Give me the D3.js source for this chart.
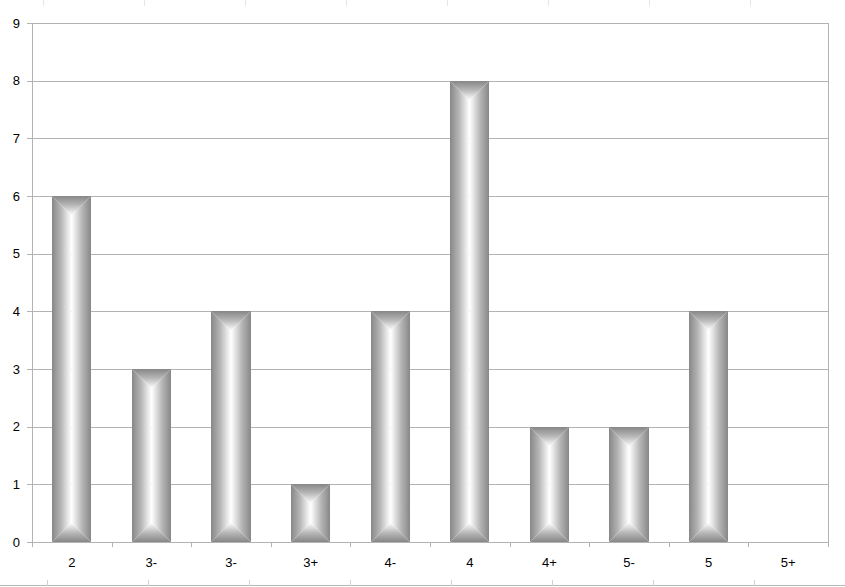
<!DOCTYPE html>
<html><head><meta charset="utf-8">
<script src="https://cdn.jsdelivr.net/npm/d3@7"></script>
<style>body{margin:0;background:#fff}svg{display:block}</style>
</head><body>
<svg id="c" width="845" height="587"></svg>
<script>
const categories = ["2","3-","3-","3+","4-","4","4+","5-","5","5+"];
const values = [6,3,4,1,4,8,2,2,4,0];
const yTicks = [0,1,2,3,4,5,6,7,8,9];

const svg = d3.select("#c");
const W = 845, H = 587;
const m = {left:32, right:17, top:23, bottom:45};
const x = d3.scaleBand().domain(d3.range(categories.length)).range([m.left, W-m.right]).paddingInner(0.51).paddingOuter(0.255);
const xb = d3.scaleBand().domain(d3.range(categories.length)).range([m.left, W-m.right]);
const y = d3.scaleLinear().domain([0,9]).range([H-m.bottom, m.top]);
const gc = "#b3b3b3";

const defs = svg.append("defs");
function grad(id, x1,y1,x2,y2){
  const g = defs.append("linearGradient").attr("id",id).attr("x1",x1).attr("y1",y1).attr("x2",x2).attr("y2",y2);
  g.append("stop").attr("offset","0%").attr("stop-color","#878787");
  g.append("stop").attr("offset","45%").attr("stop-color","#b5b5b5");
  g.append("stop").attr("offset","85%").attr("stop-color","#ececec");
  g.append("stop").attr("offset","100%").attr("stop-color","#ffffff");
}
grad("gl",0,0,1,0); grad("gr",1,0,0,0); grad("gt",0,0,0,1); grad("gb",0,1,0,0);

// gridlines
svg.append("g").selectAll("line").data(yTicks).join("line")
  .attr("x1",m.left-5).attr("x2",W-m.right)
  .attr("y1",d=>Math.round(y(d))+0.5).attr("y2",d=>Math.round(y(d))+0.5)
  .attr("stroke",gc).attr("stroke-width",1);
// y labels
svg.append("g").selectAll("text").data(yTicks).join("text")
  .attr("x",20).attr("y",d=>y(d)+4.5).attr("text-anchor","end")
  .attr("font-family","Liberation Sans, Arial, sans-serif").attr("font-size",13).attr("fill","#000")
  .text(d=>d);
// axis lines
svg.append("line").attr("x1",m.left+0.5).attr("x2",m.left+0.5).attr("y1",m.top).attr("y2",H-m.bottom).attr("stroke",gc);
svg.append("line").attr("x1",W-m.right+0.5).attr("x2",W-m.right+0.5).attr("y1",m.top).attr("y2",H-m.bottom+5).attr("stroke",gc);
// x ticks at band boundaries
const bounds = d3.range(categories.length+1).map(i=> i<categories.length ? xb(i) : W-m.right);
svg.append("g").selectAll("line").data(bounds).join("line")
  .attr("x1",d=>Math.round(d)+0.5).attr("x2",d=>Math.round(d)+0.5)
  .attr("y1",H-m.bottom).attr("y2",H-m.bottom+5).attr("stroke",gc);
// x labels
svg.append("g").selectAll("text").data(categories).join("text")
  .attr("x",(d,i)=>xb(i)+xb.bandwidth()/2).attr("y",567).attr("text-anchor","middle")
  .attr("font-family","Liberation Sans, Arial, sans-serif").attr("font-size",13).attr("fill","#000")
  .text(d=>d);

// bars with rectangular gradient
const bars = svg.append("g");
values.forEach((v,i)=>{
  if(v<=0) return;
  const x0 = Math.round(x(i)), x1 = Math.round(x(i)+x.bandwidth());
  const y0 = Math.round(y(v)), y1 = Math.round(y(0));
  const xc = (x0+x1)/2, hw = (x1-x0)/2;
  const g = bars.append("g");
  g.append("polygon").attr("points",`${x0},${y0} ${xc},${y0+hw} ${xc},${y1-hw} ${x0},${y1}`).attr("fill","url(#gl)");
  g.append("polygon").attr("points",`${x1},${y0} ${xc},${y0+hw} ${xc},${y1-hw} ${x1},${y1}`).attr("fill","url(#gr)");
  g.append("polygon").attr("points",`${x0},${y0} ${x1},${y0} ${xc},${y0+hw}`).attr("fill","url(#gt)");
  g.append("polygon").attr("points",`${x0},${y1} ${x1},${y1} ${xc},${y1-hw}`).attr("fill","url(#gb)");
});

// faint frame line at bottom of image
svg.append("line").attr("x1",0).attr("x2",W).attr("y1",585.5).attr("y2",585.5).attr("stroke","#b8b8b8");
const marks = [47,148,249,350,451,552,653,754];
svg.append("g").selectAll("line").data(marks).join("line")
  .attr("x1",d=>d+0.5).attr("x2",d=>d+0.5).attr("y1",580).attr("y2",586).attr("stroke","#d0d0d0");
svg.append("g").selectAll("line").data(marks).join("line")
  .attr("x1",d=>d-3.5).attr("x2",d=>d-3.5).attr("y1",0).attr("y2",6).attr("stroke","#e6e6e6");
</script>
</body></html>
